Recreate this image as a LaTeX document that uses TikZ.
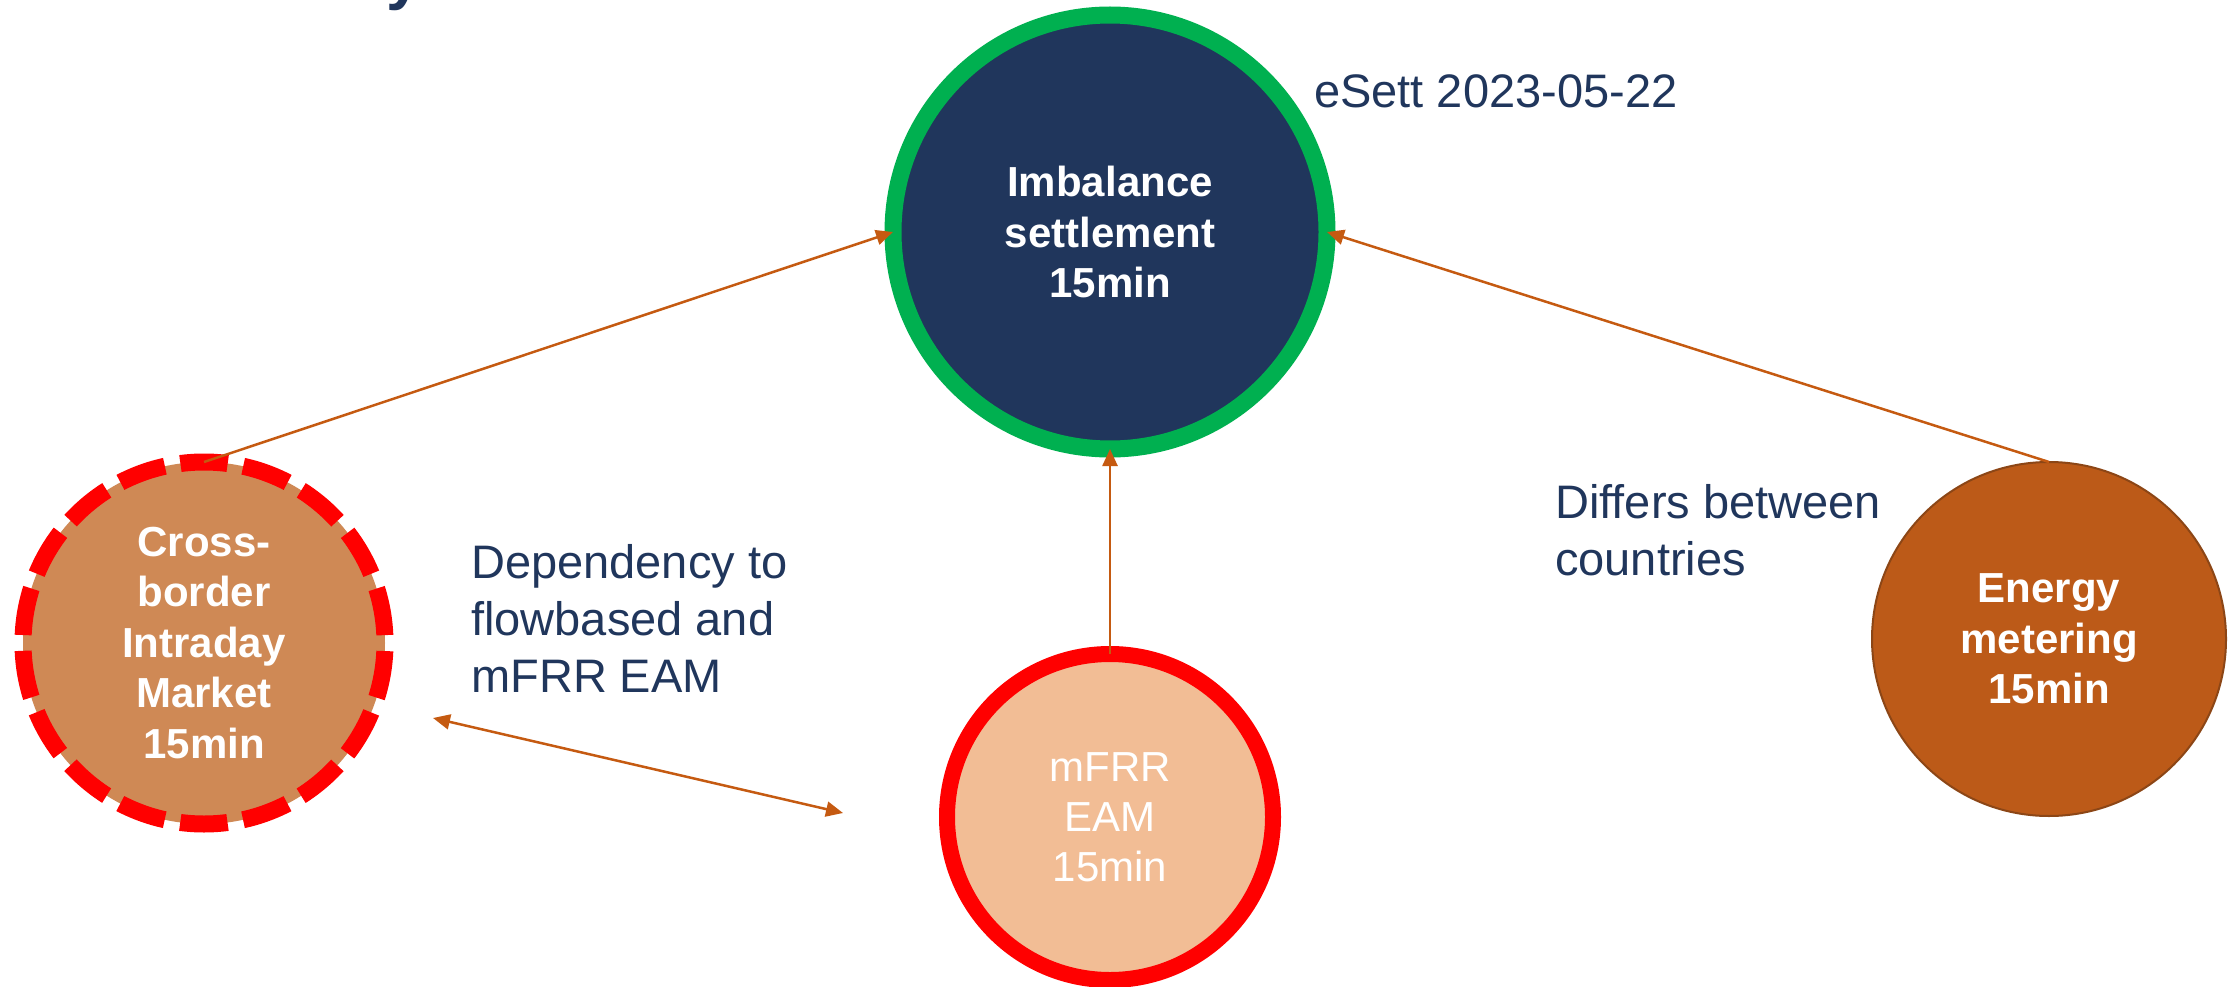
\documentclass[tikz,border=0pt]{standalone}
\usepackage{fontspec}
\setmainfont{Liberation Sans}
\usetikzlibrary{arrows.meta}
\definecolor{navy}{RGB}{32,54,92}
\definecolor{ringgreen}{RGB}{0,176,80}
\definecolor{ringred}{RGB}{255,0,0}
\definecolor{cbfill}{RGB}{207,137,85}
\definecolor{mfrrfill}{RGB}{242,189,149}
\definecolor{enfill}{RGB}{188,90,24}
\definecolor{endraw}{RGB}{140,70,22}
\definecolor{arrowc}{RGB}{197,90,17}
\tikzset{
  bubble/.style={circle, outer sep=0pt, inner sep=0pt, align=center, text=white},
  boldtxt/.style={font=\bfseries\fontsize{42}{50.5}\selectfont},
  regtxt/.style={font=\fontsize{42}{50}\selectfont},
  label/.style={text=navy, align=left, inner sep=0pt, anchor=base west, font=\fontsize{47}{57}\selectfont},
  conn/.style={draw=arrowc, line width=2.5pt, -{Triangle[length=17pt,width=15pt]}},
  dconn/.style={draw=arrowc, line width=2.5pt, {Triangle[length=17pt,width=15pt]}-{Triangle[length=17pt,width=15pt]}},
}
\begin{document}
\begin{tikzpicture}[x=1pt,y=-1pt]
\useasboundingbox (0,0) rectangle (2237,987);
\clip (0,0) rectangle (2237,987);
% cut-off title letter
\node[anchor=base west, inner sep=0pt, text=navy, font=\bfseries\fontsize{64}{64}\selectfont] (ttl) at (386,-2) {y};
% circles
\node[bubble, boldtxt, minimum size=434pt, fill=navy, draw=ringgreen, line width=17pt] (imb) at (1110,232) {Imbalance\\settlement\\15min};
\node[bubble, boldtxt, minimum size=362pt, fill=cbfill, draw=ringred, line width=17pt, dash pattern=on 47.4pt off 15.78pt, dash phase=55.3pt] (cb) at (204,643) {Cross-\\border\\Intraday\\Market\\15min};
\node[bubble, regtxt, minimum size=326pt, fill=mfrrfill, draw=ringred, line width=16pt] (mfrr) at (1110,817) {mFRR\\EAM\\15min};
\node[bubble, boldtxt, minimum size=354pt, fill=enfill, draw=endraw, line width=2pt] (en) at (2049,639) {Energy\\metering\\15min};
% labels (base = baseline of last line)
\node[label] (date) at (1314,108) {eSett 2023-05-22};
\node[label] (dep) at (471,692) {Dependency to\\flowbased and\\mFRR EAM};
\node[label] (diff) at (1555,575) {Differs between\\countries};
% connectors
\draw[conn] (cb.north) -- (imb.west);
\draw[conn] (en.north) -- (imb.east);
\draw[conn] (mfrr.north) -- (imb.south);
\coordinate (dl) at (433,718);
\coordinate (dr) at (843,813);
\draw[dconn] (dl) -- (dr);
\end{tikzpicture}
\end{document}
